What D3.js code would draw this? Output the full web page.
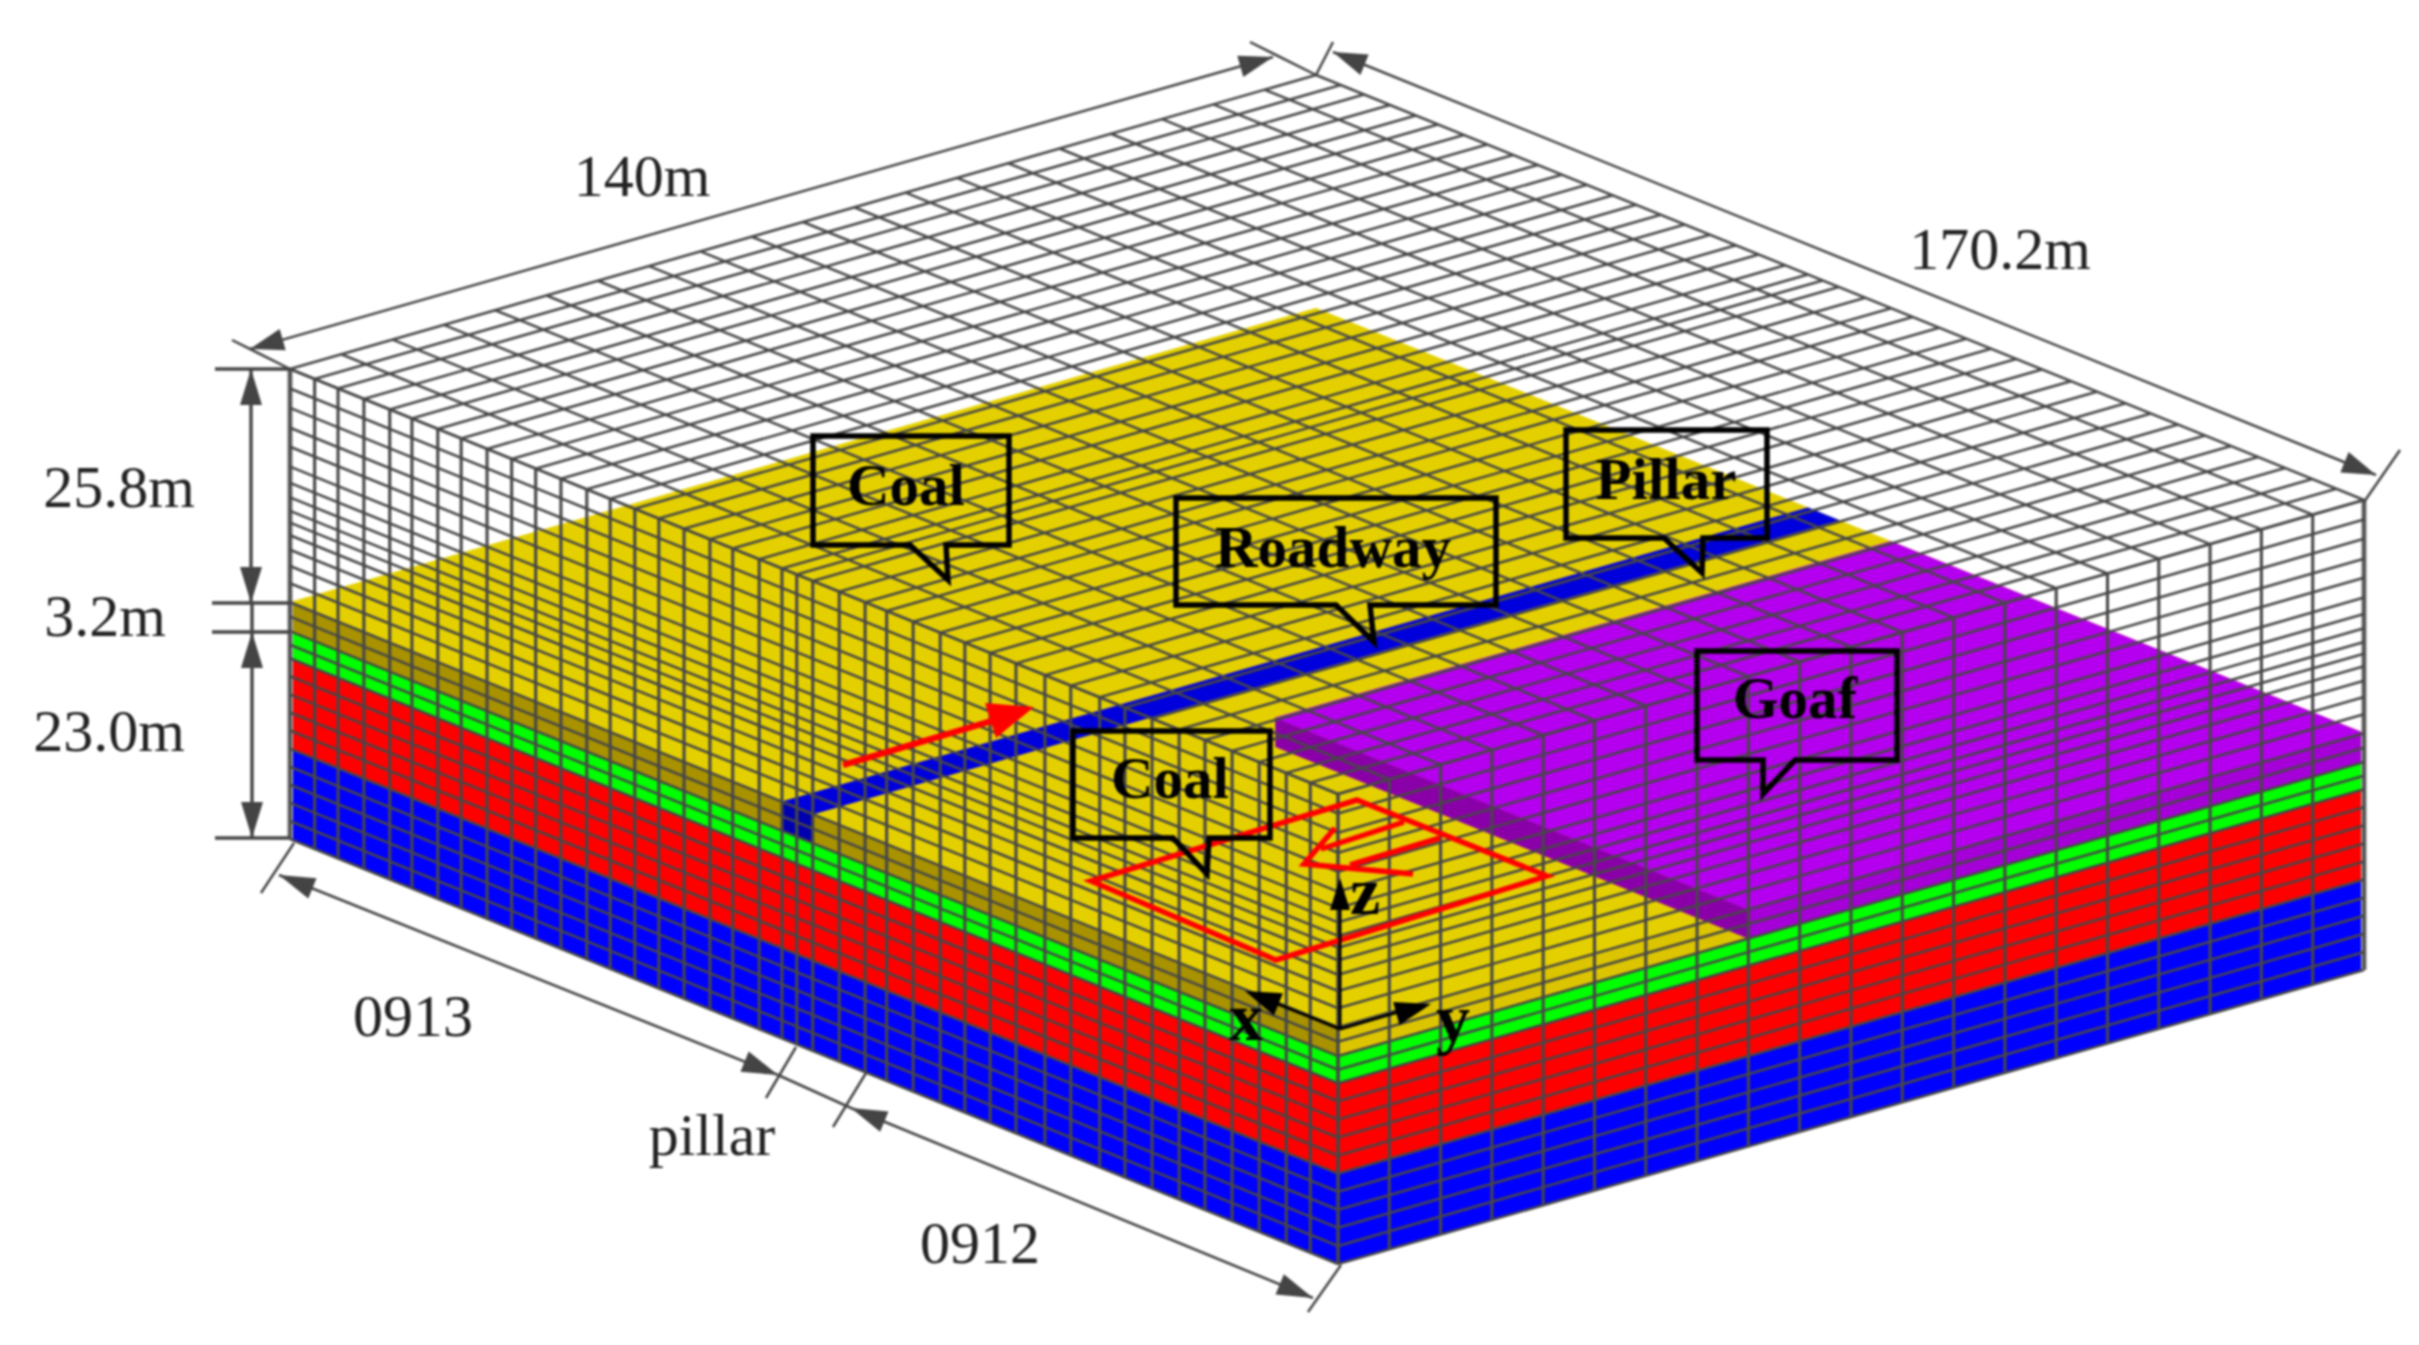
<!DOCTYPE html>
<html>
<head>
<meta charset="utf-8">
<script src="https://cdnjs.cloudflare.com/ajax/libs/d3/7.8.5/d3.min.js"></script>
<style>
html,body{margin:0;padding:0;background:#fff;}
svg{display:block;filter:blur(0.8px);}
text{font-family:"Liberation Serif","Times New Roman",serif;}
</style>
</head>
<body>
<svg id="c" width="2419" height="1345" viewBox="0 0 2419 1345"></svg>
<script>
// model extents, metres
const lengthU = 170.2;
const lengthV = 140;
const heightTop = 52;
const coalTop = 26.2;
const goafU = 76.8;
const goafV = 56;
const roadwayU = [85.3, 90.3];
// grid cuts, metres
const cutsU = [0,4.5,8.4,12.8,17.2,21.6,25.8,30.2,34.6,38.7,43.4,47.6,52.3,56.5,60.6,64.6,69,73.3,76.8,81,85.3,87.9,90.3,94,98.3,102,106.2,110.3,114.2,118.2,122,126.2,130.3,134.2,138.2,142.4,146.2,150.4,154,158.2,162.4,166.2,170.2];
const cutsV = [0,7,14,21,28,35,42,49,56,63,70,77,84,91,98,105,112,119,126,133,140];
const cutsH = [0,2,4,6,8,10,12,14,16,18,20,21.5,23,24.6,26.2,28.3,30.2,32,33.6,35,36.3,37.8,39.4,41.2,43.4,45.5,47.7,49.85,52];
// strata: name, base, top (metres)
const strataNames = ["floor","lower","seamFloor","coal"];
const strataBase = [0,10,20,23];
const strataTop = [10,20,23,26.2];
const strataColor = ["#0000ff","#ff0000","#00ff00","#a89200"];
// labels
const dimLabels = ["140m","170.2m","25.8m","3.2m","23.0m","0913","pillar","0912"];
const calloutLabels = ["Coal","Roadway","Pillar","Coal","Goaf"];
const axisLabels = ["z","x","y"];

const xU = d3.scaleLinear().domain([0,lengthU]).range([1338,290]);
const yU = d3.scaleLinear().domain([0,lengthU]).range([0,-425]);
const xV = d3.scaleLinear().domain([0,lengthV]).range([0,1026]);
const yV = d3.scaleLinear().domain([0,lengthV]).range([0,-294]);
const yH = d3.scaleLinear().domain([0,heightTop]).range([1264,794]);
const P = (u,v,h)=>[xU(u)+xV(v), yU(u)+yV(v)+yH(h)];
const line = d3.line();
const svg = d3.select("#c");

function quad(g,pts,fill){
  g.append("path").attr("d",line(pts)+"Z").attr("fill",fill).attr("stroke",fill).attr("stroke-width",0.6);
}
const faces = svg.append("g");
// left face and right face strata
strataBase.forEach((b,i)=>{
  const t = strataTop[i];
  quad(faces,[P(0,0,b),P(lengthU,0,b),P(lengthU,0,t),P(0,0,t)],strataColor[i]);
  quad(faces,[P(0,0,b),P(0,lengthV,b),P(0,lengthV,t),P(0,0,t)],
    i===3 ? "#dcc500" : strataColor[i]);
});
// goaf side on right face
quad(faces,[P(0,goafV,strataBase[3]),P(0,lengthV,strataBase[3]),P(0,lengthV,coalTop),P(0,goafV,coalTop)],"#a500d8");
// coal top
quad(faces,[P(0,0,coalTop),P(lengthU,0,coalTop),P(lengthU,lengthV,coalTop),P(0,lengthV,coalTop)],"#e4d000");
// goaf dark side + top
quad(faces,[P(0,goafV,coalTop),P(goafU,goafV,coalTop),P(goafU,goafV,strataBase[3]),P(0,goafV,strataBase[3])],"#8a00a8");
quad(faces,[P(0,goafV,coalTop),P(goafU,goafV,coalTop),P(goafU,lengthV,coalTop),P(0,lengthV,coalTop)],"#b400ee");
// roadway
quad(faces,[P(roadwayU[0],0,coalTop),P(roadwayU[1],0,coalTop),P(roadwayU[1],lengthV,coalTop),P(roadwayU[0],lengthV,coalTop)],"#0000dc");
quad(faces,[P(roadwayU[0],0,coalTop),P(roadwayU[1],0,coalTop),P(roadwayU[1],0,strataBase[3]),P(roadwayU[0],0,strataBase[3])],"#0000b0");

// wire mesh
const segs = [];
cutsU.forEach(u=>segs.push({a:P(u,0,heightTop),b:P(u,lengthV,heightTop),w:2.6}));
cutsV.forEach(v=>segs.push({a:P(0,v,heightTop),b:P(lengthU,v,heightTop),w:2.6}));
cutsH.forEach(h=>{
  segs.push({a:P(0,0,h),b:P(lengthU,0,h),w:2.6});
  segs.push({a:P(0,0,h),b:P(0,lengthV,h),w:2.6});
});
cutsU.forEach(u=>segs.push({a:P(u,0,0),b:P(u,0,heightTop),w:3.1}));
cutsV.forEach(v=>segs.push({a:P(0,v,0),b:P(0,v,heightTop),w:3.1}));
const edge = svg.append("g").attr("stroke","#b5b5b5").attr("stroke-width",6);
[[lengthU,0],[0,lengthV]].forEach(e=>edge.append("line")
  .attr("x1",P(e[0],e[1],0)[0]).attr("y1",P(e[0],e[1],0)[1])
  .attr("x2",P(e[0],e[1],heightTop)[0]).attr("y2",P(e[0],e[1],heightTop)[1]));
svg.append("g").selectAll("line").data(segs).join("line")
  .attr("x1",d=>d.a[0]).attr("y1",d=>d.a[1]).attr("x2",d=>d.b[0]).attr("y2",d=>d.b[1])
  .attr("stroke","#474747").attr("stroke-width",d=>d.w);

// dimension annotations
const dim = svg.append("g").attr("stroke","#444").attr("fill","#444");
function seg(g,x1,y1,x2,y2,w,c){
  g.append("line").attr("x1",x1).attr("y1",y1).attr("x2",x2).attr("y2",y2)
   .attr("stroke-width",w).attr("stroke",c||null);
}
function head(g,tx,ty,fx,fy,len,hw,c){
  const d=Math.hypot(fx-tx,fy-ty),ux=(fx-tx)/d,uy=(fy-ty)/d;
  const bx=tx+ux*len,by=ty+uy*len;
  g.append("path").attr("d",line([[tx,ty],[bx-uy*hw,by+ux*hw],[bx+uy*hw,by-ux*hw]])+"Z")
   .attr("fill",c||"#444").attr("stroke","none");
}
function dbl(g,x1,y1,x2,y2,w,len,hw){
  seg(g,x1,y1,x2,y2,w); head(g,x1,y1,x2,y2,len,hw); head(g,x2,y2,x1,y1,len,hw);
}
// top dims
dbl(dim,250,349,1273,57,2.5,34,11);
dbl(dim,1333,52,2376,475,2.5,34,11);
seg(dim,290,369,232,340,2.5);
seg(dim,1316,75,1250,42,2.5);
seg(dim,1316,75,1333,42,2.5);
seg(dim,2364,502,2400,450,2.5);
// left height dims
seg(dim,215,369,290,369,3.4);
seg(dim,212,603,290,603,3.4);
seg(dim,212,632,290,632,3.4);
seg(dim,215,838,290,838,3.4);
dbl(dim,251,369,251,603,3.4,36,11);
seg(dim,252,603,252,632,3.4);
dbl(dim,252,632,252,838,3.4,36,11);
// bottom dims
seg(dim,294,843,261,893,2.5);
seg(dim,796,1047,766,1098,2.5);
seg(dim,866,1073,833,1127,2.5);
seg(dim,1341,1265,1308,1312,2.5);
dbl(dim,279,875,778,1075,2.6,36,11);
dbl(dim,851,1108,1313,1298,2.6,36,11);
seg(dim,778,1075,851,1108,2.6);

// dimension text
const dimPos = [[642,196],[2000,269],[119,507],[105,636],[109,751],[413,1036],[712,1155],[980,1263]];
svg.append("g").selectAll("text").data(dimLabels).join("text")
  .attr("x",(d,i)=>dimPos[i][0]).attr("y",(d,i)=>dimPos[i][1])
  .attr("text-anchor","middle").attr("font-size",60).attr("fill","#222").text(d=>d);

// red markers
const red = svg.append("g").attr("stroke","#ff0000").attr("fill","none").attr("stroke-linejoin","miter");
red.append("path").attr("d",line([[1357,800],[1547,876],[1276,960],[1091,881]])+"Z").attr("stroke-width",5.5);
red.append("path").attr("d",line([[1335,828],[1304,864],[1413,874]])).attr("stroke-width",5.5);
red.append("path").attr("d",line([[1404,822],[1321,849]])).attr("stroke-width",5.5);
red.append("path").attr("d",line([[1440,838],[1350,865]])).attr("stroke-width",5.5);
red.append("line").attr("x1",843).attr("y1",765).attr("x2",995).attr("y2",720).attr("stroke-width",6.5);
svg.append("path").attr("d",line([[1034,707],[985,703],[996,738]])+"Z").attr("fill","#ff0000");

// callouts
const calloutBox = [
  {x0:815,x1:1011,y0:436,y1:545,t0:912,t1:948,tx:950,ty:580},
  {x0:1181,x1:1501,y0:498,y1:605,t0:1341,t1:1375,tx:1379,ty:642},
  {x0:1572,x1:1773,y0:430,y1:538,t0:1670,t1:1709,tx:1708,ty:573},
  {x0:1078,x1:1275,y0:731,y1:838,t0:1178,t1:1214,tx:1212,ty:874},
  {x0:1706,x1:1906,y0:651,y1:760,t0:1772,t1:1804,tx:1772,ty:794}
];
const calloutOffset = [-2,-5,-6,-5,-9];
const calloutText = [[906,505],[1333,567],[1666,499],[1170,798],[1795,718]];
const co = svg.append("g");
co.selectAll("path").data(calloutBox).join("path")
  .attr("transform",(b,i)=>`translate(${calloutOffset[i]},0)`)
  .attr("d",b=>line([[b.x0,b.y0],[b.x1,b.y0],[b.x1,b.y1],[b.t1,b.y1],[b.tx,b.ty],[b.t0,b.y1],[b.x0,b.y1]])+"Z")
  .attr("fill","none").attr("stroke","#000").attr("stroke-width",5.5).attr("stroke-linejoin","miter");
co.selectAll("text").data(calloutLabels).join("text")
  .attr("x",(d,i)=>calloutText[i][0]).attr("y",(d,i)=>calloutText[i][1])
  .attr("text-anchor","middle").attr("font-size",59).attr("font-weight","bold").attr("fill","#000").text(d=>d);

// coordinate axes
const ax = svg.append("g").attr("stroke","#000");
seg(ax,1340,1029,1340,900,3);
seg(ax,1340,1029,1268,1000,3);
seg(ax,1340,1029,1405,1010,3);
head(ax,1340,878,1340,1029,32,10,"#000");
head(ax,1245,991,1340,1029,36,12,"#000");
head(ax,1431,1004,1340,1029,36,12,"#000");
const axisPos = [[1365,914],[1246,1040],[1453,1042]];
svg.append("g").selectAll("text").data(axisLabels).join("text")
  .attr("x",(d,i)=>axisPos[i][0]).attr("y",(d,i)=>axisPos[i][1])
  .attr("text-anchor","middle").attr("font-size",68).attr("font-weight","bold").attr("fill","#000").text(d=>d);
</script>
</body>
</html>
